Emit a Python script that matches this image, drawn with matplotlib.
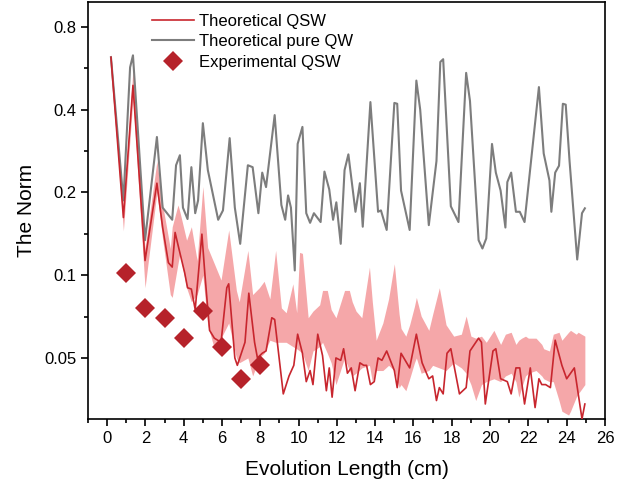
import numpy as np
import matplotlib
matplotlib.use('Agg')
import matplotlib.pyplot as plt
from matplotlib.ticker import NullFormatter

plt.rcParams['font.family'] = ['Liberation Sans', 'DejaVu Sans']

# Theoretical pure QW (grey)
qw_x = [0.2, 0.85, 1.2, 1.35, 1.98, 2.6, 2.9, 3.4, 3.6, 3.8, 3.96, 4.2, 4.4, 4.6, 4.75,
        5.0, 5.26, 5.8, 6.05, 6.4, 6.67, 6.95, 7.35, 7.6, 7.9, 8.1, 8.3, 8.75, 9.1, 9.3,
        9.45, 9.6, 9.8, 9.95, 10.2, 10.4, 10.6, 10.8, 11.15, 11.35, 11.6, 11.8, 11.97,
        12.2, 12.4, 12.6, 12.97, 13.2, 13.35, 13.75, 14.15, 14.3, 14.6, 15.0, 15.15,
        15.35, 15.8, 16.15, 16.35, 16.8, 17.2, 17.4, 17.55, 17.95, 18.35, 18.75, 18.95,
        19.4, 19.6, 19.8, 20.1, 20.3, 20.55, 20.8, 20.9, 21.1, 21.35, 21.55, 21.8, 22.55,
        22.8, 23.1, 23.2, 23.4, 23.6, 23.8, 23.95, 24.15, 24.55, 24.8, 24.95]
qw_y = [0.62, 0.187, 0.57, 0.63, 0.134, 0.318, 0.176, 0.159, 0.251, 0.273, 0.176, 0.160,
        0.247, 0.168, 0.187, 0.357, 0.241, 0.159, 0.172, 0.315, 0.176, 0.130, 0.251, 0.247,
        0.168, 0.236, 0.209, 0.382, 0.180, 0.159, 0.195, 0.176, 0.104, 0.300, 0.346, 0.168,
        0.155, 0.168, 0.156, 0.238, 0.205, 0.159, 0.184, 0.130, 0.241, 0.275, 0.170, 0.216,
        0.150, 0.426, 0.170, 0.172, 0.146, 0.423, 0.420, 0.203, 0.146, 0.510, 0.400, 0.152,
        0.260, 0.596, 0.610, 0.178, 0.156, 0.544, 0.430, 0.134, 0.125, 0.136, 0.300, 0.236,
        0.203, 0.149, 0.218, 0.236, 0.170, 0.170, 0.156, 0.483, 0.277, 0.221, 0.170, 0.236,
        0.250, 0.420, 0.417, 0.260, 0.114, 0.168, 0.175]

# Theoretical QSW (red line)
qsw_x = [0.2, 0.85, 1.35, 1.98, 2.6, 2.9, 3.2, 3.4, 3.55, 3.7, 4.05, 4.2, 4.4, 4.6, 4.95,
         5.1, 5.35, 5.6, 5.95, 6.25, 6.35, 6.67, 6.8, 7.2, 7.4, 7.7, 7.85, 8.1, 8.3, 8.6,
         8.75, 9.2, 9.5, 9.75, 9.95, 10.2, 10.4, 10.6, 10.75, 11.0, 11.25, 11.45, 11.6,
         11.75, 11.95, 12.2, 12.35, 12.55, 12.75, 12.95, 13.2, 13.4, 13.55, 13.75, 13.95,
         14.15, 14.35, 14.6, 15.0, 15.15, 15.35, 15.8, 16.15, 16.45, 16.8, 17.0, 17.2,
         17.35, 17.55, 17.75, 17.95, 18.4, 18.75, 18.95, 19.4, 19.55, 19.75, 20.15, 20.3,
         20.55, 20.9, 21.1, 21.35, 21.55, 21.8, 22.1, 22.35, 22.55, 22.7, 22.9, 23.15,
         23.4, 23.75, 24.0, 24.4, 24.8, 24.95]
qsw_y = [0.62, 0.162, 0.49, 0.113, 0.216, 0.149, 0.111, 0.107, 0.143, 0.129, 0.102, 0.090,
         0.089, 0.075, 0.141, 0.102, 0.063, 0.059, 0.057, 0.090, 0.093, 0.050, 0.047, 0.057,
         0.086, 0.057, 0.050, 0.052, 0.053, 0.070, 0.069, 0.037, 0.043, 0.047, 0.061, 0.052,
         0.041, 0.045, 0.040, 0.061, 0.051, 0.038, 0.046, 0.036, 0.050, 0.049, 0.054, 0.044,
         0.046, 0.038, 0.048, 0.047, 0.047, 0.040, 0.041, 0.050, 0.049, 0.053, 0.045, 0.039,
         0.052, 0.046, 0.061, 0.048, 0.042, 0.043, 0.035, 0.039, 0.037, 0.052, 0.054, 0.037,
         0.039, 0.053, 0.059, 0.057, 0.034, 0.053, 0.054, 0.042, 0.041, 0.037, 0.046, 0.046,
         0.034, 0.046, 0.033, 0.042, 0.040, 0.040, 0.039, 0.058, 0.047, 0.042, 0.046, 0.030,
         0.034]

# shaded range around the QSW curve
band_x = [0.2, 0.85, 1.35, 1.98, 2.6, 2.9, 3.3, 3.4, 3.7, 3.8, 4.15, 4.4, 4.7, 5.0, 5.25,
          5.6, 5.95, 6.35, 6.75, 6.9, 7.35, 7.6, 7.95, 8.2, 8.5, 8.8, 9.1, 9.35, 9.7, 9.9,
          10.05, 10.2, 10.5, 10.75, 11.1, 11.25, 11.5, 11.7, 11.95, 12.4, 12.65, 12.8, 13.0,
          13.3, 13.7, 13.85, 14.05, 14.4, 14.7, 15.0, 15.25, 15.35, 15.6, 15.8, 16.05, 16.15,
          16.4, 16.8, 17.0, 17.35, 17.7, 18.1, 18.5, 18.75, 19.0, 19.25, 19.55, 19.8, 20.2,
          20.55, 20.8, 21.1, 21.35, 21.5, 21.65, 21.85, 22.0, 22.4, 22.7, 22.8, 23.1, 23.3,
          23.6, 23.75, 24.1, 24.2, 24.5, 24.6, 24.95]
band_lo = [0.60, 0.145, 0.44, 0.090, 0.20, 0.135, 0.085, 0.083, 0.11, 0.12, 0.09, 0.08,
           0.085, 0.10, 0.066, 0.054, 0.059, 0.067, 0.050, 0.048, 0.050, 0.043, 0.050, 0.052,
           0.058, 0.057, 0.057, 0.057, 0.055, 0.054, 0.053, 0.052, 0.045, 0.053, 0.055, 0.057,
           0.052, 0.048, 0.040, 0.050, 0.045, 0.043, 0.044, 0.046, 0.047, 0.041, 0.045, 0.045,
           0.047, 0.045, 0.039, 0.040, 0.038, 0.042, 0.048, 0.050, 0.044, 0.045, 0.047, 0.046,
           0.045, 0.048, 0.046, 0.044, 0.040, 0.035, 0.040, 0.041, 0.042, 0.041, 0.043, 0.044,
           0.041, 0.036, 0.039, 0.043, 0.044, 0.045, 0.043, 0.042, 0.041, 0.041, 0.035, 0.032,
           0.031, 0.032, 0.036, 0.037, 0.040]
band_hi = [0.64, 0.175, 0.56, 0.125, 0.26, 0.18, 0.125, 0.15, 0.18, 0.17, 0.134, 0.15,
           0.113, 0.21, 0.126, 0.11, 0.096, 0.146, 0.088, 0.080, 0.123, 0.085, 0.090, 0.095,
           0.082, 0.123, 0.076, 0.073, 0.093, 0.073, 0.121, 0.120, 0.070, 0.074, 0.078, 0.088,
           0.088, 0.075, 0.070, 0.088, 0.088, 0.080, 0.074, 0.070, 0.107, 0.080, 0.058, 0.067,
           0.082, 0.110, 0.072, 0.064, 0.060, 0.066, 0.077, 0.083, 0.071, 0.063, 0.072, 0.090,
           0.066, 0.060, 0.061, 0.071, 0.060, 0.059, 0.060, 0.057, 0.063, 0.056, 0.061, 0.062,
           0.056, 0.058, 0.059, 0.060, 0.059, 0.059, 0.056, 0.054, 0.053, 0.061, 0.062, 0.058,
           0.062, 0.063, 0.061, 0.062, 0.060]

# Experimental QSW
exp_x = [1, 2, 3, 4, 5, 6, 7, 8]
exp_y = [0.102, 0.076, 0.070, 0.059, 0.074, 0.055, 0.042, 0.047]

fig = plt.figure(figsize=(6.44, 4.9), dpi=100)
ax = fig.add_axes([0.1366, 0.145, 0.8028, 0.851])

ax.fill_between(band_x, band_lo, band_hi, color='#f5a7a9', lw=0, zorder=1)
ax.plot(qw_x, qw_y, color='#7d7d7d', lw=1.5, label='Theoretical pure QW', zorder=2)
ax.plot(qsw_x, qsw_y, color='#c8262e', lw=1.2, label='Theoretical QSW', zorder=3)
ax.plot(exp_x, exp_y, 'D', color='#b6222a', ms=10.5, mew=0,
        label='Experimental QSW', zorder=4)

ax.set_yscale('log')
ax.set_xlim(-1, 26)
ax.set_ylim(0.03, 0.985)
yt = [0.05, 0.1, 0.2, 0.4, 0.8]
ax.set_yticks(yt)
ax.set_yticklabels(['0.05', '0.1', '0.2', '0.4', '0.8'])
ax.set_yticks([v * np.sqrt(2) for v in yt[:-1]], minor=True)
ax.yaxis.set_minor_formatter(NullFormatter())
ax.set_xticks(range(0, 27, 2))
ax.set_xticks(range(-1, 27, 2), minor=True)
ax.tick_params(which='both', direction='out', labelsize=12, width=1.2)
ax.tick_params(which='major', length=5)
ax.tick_params(which='minor', length=3)
for s in ax.spines.values():
    s.set_linewidth(1.2)

ax.set_xlabel('Evolution Length (cm)', fontsize=15, labelpad=10)
ax.set_ylabel('The Norm', fontsize=15, labelpad=6)

handles, labels = ax.get_legend_handles_labels()
order = [1, 0, 2]
ax.legend([handles[i] for i in order], [labels[i] for i in order],
          loc='upper left', bbox_to_anchor=(0.124, 0.972), frameon=False,
          fontsize=12, handlelength=2.5, handletextpad=0.3, labelspacing=0.33,
          borderpad=0, borderaxespad=0)

fig.savefig('out.png', dpi=100)
